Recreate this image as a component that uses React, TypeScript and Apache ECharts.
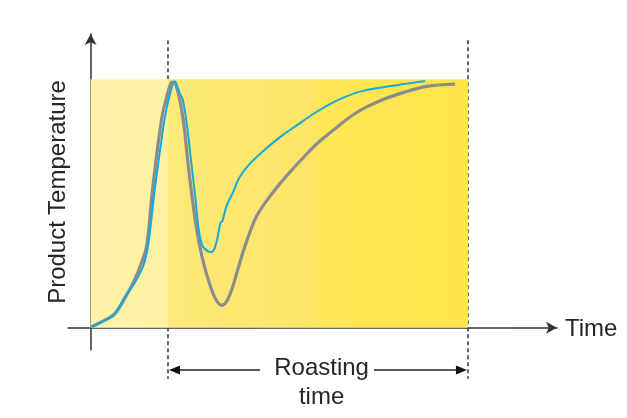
import React, { useEffect, useRef } from "react";
import * as echarts from "echarts";

// Axis extents (data units)
const xMin = -6;
const xMax = 123.6;
const yMin = -9;
const yMax = 118.2;

// Phases of the roast (x positions, data units) and temperature ceiling
const roastStart = 20.5;
const zoneSplit = 60;
const roastEnd = 100;
const tempTop = 100;

// Zones of the background: [from, to, color stops]
const zoneStarts = [0, roastStart, zoneSplit];
const zoneEnds = [roastStart, zoneSplit, roastEnd];
const zoneColorsA = ["#FEF3AA", "#FDE97A", "#FEE656"];
const zoneColorsB = ["#FEF1A2", "#FEE567", "#FEE54B"];

// Product temperature curves: [time, temperature]
const blueCurve: [number, number][] = [
  [0.2, 0.3], [4.6, 3.5], [6.4, 5.2], [9.0, 12.1], [11.7, 18.1], [13.9, 24.7],
  [15.2, 32.8], [17.0, 55.6], [19.6, 83.9], [21.0, 94.0], [22.3, 99.2],
  [23.6, 94.4], [24.4, 91.9], [25.6, 80.6], [26.7, 66.0], [27.7, 53.0],
  [28.6, 40.0], [29.6, 33.0], [30.8, 31.0], [32.0, 30.4], [32.9, 32.1], [33.8, 37.5],
  [34.4, 42.2], [34.9, 42.9], [36.0, 48.9], [37.7, 54.3], [39.5, 60.6],
  [42.2, 66.0], [45.7, 71.0], [50.1, 76.6], [54.6, 81.4], [59.0, 86.0],
  [63.4, 90.0], [67.8, 93.1], [72.2, 95.3], [81.1, 97.6], [88.6, 99.3],
];

const grayCurve: [number, number][] = [
  [0.3, 0.4], [4.5, 3.6], [6.6, 6.0], [9.3, 12.5], [11.7, 19.4], [13.5, 26.2],
  [14.9, 33.5], [16.4, 55.6], [18.8, 83.9], [20.2, 93.1], [21.7, 98.8],
  [22.5, 98.0], [23.6, 91.9], [24.7, 81.9], [25.7, 67.7], [26.8, 53.6],
  [28.1, 39.5], [29.7, 27.4], [31.6, 17.3], [33.2, 11.3], [34.7, 9.0],
  [36.0, 10.5], [37.4, 15.3], [39.0, 23.4], [40.8, 32.3], [44.0, 44.9],
  [48.4, 54.6], [52.8, 62.6], [57.2, 69.8], [60.7, 75.0], [65.2, 80.6],
  [70.5, 86.6], [76.7, 91.3], [82.8, 94.6], [89.0, 97.1], [96.6, 98.0],
];

// Annotation (data units)
const dashTop = 115.7;
const dashBottom = -20.6;
const arrowY = -17.1;
const arrowLeftEnd = 44.9;
const arrowRightStart = 75.1;
const labelX = 61.2;
const labelY1 = -15.7;
const labelY2 = -27.2;

const xAxisName = "Time";
const yAxisName = "Product Temperature";
const roastLabel1 = "Roasting";
const roastLabel2 = "time";

const FONT = '"Liberation Sans", Arial, sans-serif';
const INK = "#262626";

export default function App() {
  const ref = useRef<HTMLDivElement>(null);

  useEffect(() => {
    if (!ref.current) return;
    const chart = echarts.init(ref.current, undefined, { renderer: "svg" });

    const option: any = {
      animation: false,
      grid: { left: 68, right: 70, top: 34, bottom: 68 },
      xAxis: {
        type: "value",
        min: xMin,
        max: xMax,
        name: xAxisName,
        nameLocation: "end",
        nameGap: 8,
        nameTextStyle: { fontSize: 24, fontFamily: FONT, color: INK, verticalAlign: "middle" },
        axisLine: {
          show: true,
          onZero: true,
          symbol: ["none", "arrow"],
          symbolSize: [9, 11],
          lineStyle: { color: "#333", width: 1.5 },
        },
        axisTick: { show: false },
        axisLabel: { show: false },
        splitLine: { show: false },
      },
      yAxis: {
        type: "value",
        min: yMin,
        max: yMax,
        name: yAxisName,
        nameLocation: "middle",
        nameGap: 0,
        nameTextStyle: { fontSize: 24, fontFamily: FONT, color: INK },
        axisLine: {
          show: true,
          onZero: true,
          symbol: ["none", "arrow"],
          symbolSize: [9, 11],
          lineStyle: { color: "#333", width: 1.5 },
        },
        axisTick: { show: false },
        axisLabel: { show: false },
        splitLine: { show: false },
      },
      series: [
        {
          type: "line",
          data: grayCurve,
          showSymbol: false,
          smooth: 0.35,
          lineStyle: { color: "#8C8C8C", width: 3.2 },
          z: 2,
          markArea: {
            silent: true,
            data: zoneStarts.map((s, i) => [
              {
                xAxis: s,
                yAxis: 0,
                itemStyle: {
                  color: {
                    type: "linear",
                    x: 0, y: 0, x2: 1, y2: 0,
                    colorStops: [
                      { offset: 0, color: zoneColorsA[i] },
                      { offset: 1, color: zoneColorsB[i] },
                    ],
                  },
                },
              },
              { xAxis: zoneEnds[i], yAxis: tempTop },
            ]),
          },
        },
        {
          type: "line",
          data: blueCurve,
          showSymbol: false,
          smooth: 0.35,
          lineStyle: { color: "#14A8DF", width: 2 },
          z: 3,
        },
      ],
    };

    chart.setOption(option);

    const p = (x: number, y: number) =>
      chart.convertToPixel({ gridIndex: 0 }, [x, y]) as number[];

    const [sx, top] = p(roastStart, dashTop);
    const [ex, bottom] = p(roastEnd, dashBottom);
    const [, ay] = p(0, arrowY);
    const [lx] = p(arrowLeftEnd, 0);
    const [rx] = p(arrowRightStart, 0);
    const [tx, ty1] = p(labelX, labelY1);
    const [, ty2] = p(labelX, labelY2);
    const head = 11;
    const half = 4.5;

    chart.setOption({
      graphic: [
        {
          type: "line",
          shape: { x1: sx, y1: top, x2: sx, y2: bottom },
          style: { stroke: "#333", lineWidth: 1.5, lineDash: [4, 3] },
        },
        {
          type: "line",
          shape: { x1: ex, y1: top, x2: ex, y2: bottom },
          style: { stroke: "#333", lineWidth: 1.5, lineDash: [4, 3] },
        },
        {
          type: "line",
          shape: { x1: sx + head - 1, y1: ay, x2: lx, y2: ay },
          style: { stroke: "#222", lineWidth: 1.5 },
        },
        {
          type: "polygon",
          shape: { points: [[sx + 1, ay], [sx + 1 + head, ay - half], [sx + 1 + head, ay + half]] },
          style: { fill: "#111" },
        },
        {
          type: "line",
          shape: { x1: rx, y1: ay, x2: ex - head + 1, y2: ay },
          style: { stroke: "#222", lineWidth: 1.5 },
        },
        {
          type: "polygon",
          shape: { points: [[ex - 1, ay], [ex - 1 - head, ay - half], [ex - 1 - head, ay + half]] },
          style: { fill: "#111" },
        },
        {
          type: "text",
          x: tx,
          y: ty1,
          style: {
            text: roastLabel1,
            fontSize: 24,
            fontFamily: FONT,
            fill: INK,
            align: "center",
            verticalAlign: "middle",
          },
        },
        {
          type: "text",
          x: tx,
          y: ty2,
          style: {
            text: roastLabel2,
            fontSize: 24,
            fontFamily: FONT,
            fill: INK,
            align: "center",
            verticalAlign: "middle",
          },
        },
      ],
    });

    return () => chart.dispose();
  }, []);

  return (
    <div
      ref={ref}
      style={{ position: "fixed", left: 0, top: 0, width: 627, height: 418 }}
    />
  );
}
